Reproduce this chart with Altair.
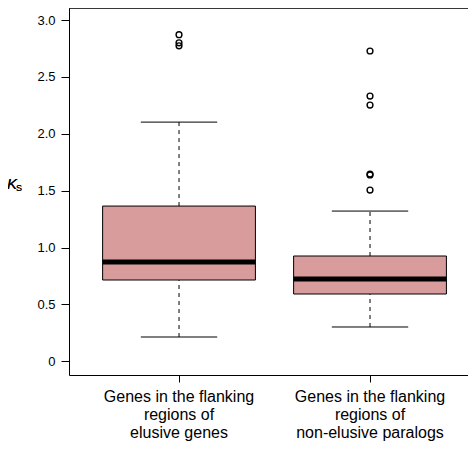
import altair as alt
import pandas as pd

categories = ["elusive", "non-elusive"]
label_lines = [
    ["Genes in the flanking", "regions of", "elusive genes"],
    ["Genes in the flanking", "regions of", "non-elusive paralogs"],
]
positions = [1, 2]
lower_whisker = [0.214, 0.302]
q1 = [0.715, 0.592]
median = [0.873, 0.724]
q3 = [1.365, 0.926]
upper_whisker = [2.103, 1.321]
outliers = [
    [2.871, 2.80, 2.774],
    [2.728, 2.332, 2.253, 1.646, 1.638, 1.506],
]
y_ticks = [0, 0.5, 1.0, 1.5, 2.0, 2.5, 3.0]

FONT = "Liberation Sans"
FILL = "#D99C9C"
W, H = 399, 367
XDOM = [0.424, 0.424 + 399 / 191]
YDOM = [-0.12, 3.106]

boxes = pd.DataFrame({
    "cat": categories,
    "pos": positions,
    "lo": lower_whisker,
    "q1": q1,
    "med": median,
    "q3": q3,
    "hi": upper_whisker,
    "label": ["\n".join(l) for l in label_lines],
})
boxes["bl"] = boxes["pos"] - 0.4
boxes["br"] = boxes["pos"] + 0.4
boxes["cl"] = boxes["pos"] - 0.2
boxes["cr"] = boxes["pos"] + 0.2

out_rows = []
for p, vals in zip(positions, outliers):
    for v in vals:
        out_rows.append({"pos": p, "v": v})
outs = pd.DataFrame(out_rows)

xs = alt.Scale(domain=XDOM, nice=False, zero=False)
ys = alt.Scale(domain=YDOM, nice=False, zero=False)

base = alt.Chart(boxes)

xaxis = alt.Axis(values=positions, labels=False, title=None, grid=False,
                 tickSize=7, tickColor="black", domainColor="black",
                 domainWidth=1, tickWidth=1)
yaxis = alt.Axis(values=y_ticks, title=None, grid=False, tickSize=8,
                 tickColor="black", domainColor="black", domainWidth=1,
                 tickWidth=1, labelFontSize=13, labelFont=FONT,
                 labelColor="black", labelPadding=6,
                 labelExpr="datum.value == 0 ? '0' : format(datum.value, '.1f')")

whisk_up = base.mark_rule(color="black", strokeWidth=1, strokeDash=[4, 4]).encode(
    x=alt.X("pos:Q", scale=xs, axis=xaxis),
    y=alt.Y("q3:Q", scale=ys, axis=yaxis),
    y2="hi:Q",
)
whisk_lo = base.mark_rule(color="black", strokeWidth=1, strokeDash=[4, 4]).encode(
    x=alt.X("pos:Q", scale=xs), y=alt.Y("lo:Q", scale=ys), y2="q1:Q"
)
cap_hi = base.mark_rule(color="black", strokeWidth=1).encode(
    x=alt.X("cl:Q", scale=xs), x2="cr:Q", y=alt.Y("hi:Q", scale=ys)
)
cap_lo = base.mark_rule(color="black", strokeWidth=1).encode(
    x=alt.X("cl:Q", scale=xs), x2="cr:Q", y=alt.Y("lo:Q", scale=ys)
)
box = base.mark_rect(fill=FILL, stroke="black", strokeWidth=1).encode(
    x=alt.X("bl:Q", scale=xs), x2="br:Q",
    y=alt.Y("q1:Q", scale=ys), y2="q3:Q",
)
med = base.mark_rule(color="black", strokeWidth=5, strokeCap="butt").encode(
    x=alt.X("bl:Q", scale=xs), x2="br:Q", y=alt.Y("med:Q", scale=ys)
)
pts = alt.Chart(outs).mark_point(shape="circle", filled=False, color="black",
                                 size=34, strokeWidth=1.4, opacity=1).encode(
    x=alt.X("pos:Q", scale=xs), y=alt.Y("v:Q", scale=ys)
)
top_line = base.mark_rule(color="black", strokeWidth=1).encode(
    x=alt.value(0), x2=alt.value(W), y=alt.value(0)
)
xlabels = base.mark_text(font=FONT, fontSize=16, lineBreak="\n", lineHeight=18,
                         baseline="alphabetic", align="center", color="black").encode(
    x=alt.X("pos:Q", scale=xs), y=alt.value(394), text="label:N"
)
k_text = base.mark_text(font=FONT, fontSize=15, fontStyle="italic", align="left",
                        baseline="alphabetic", color="black").encode(
    x=alt.value(-62), y=alt.value(181), text=alt.value("K")
)
s_text = base.mark_text(font=FONT, fontSize=9, align="left",
                        baseline="alphabetic", color="black").encode(
    x=alt.value(-53), y=alt.value(183), text=alt.value("S")
)

chart = alt.layer(
    whisk_up, whisk_lo, cap_hi, cap_lo, box, med, pts, top_line, xlabels, k_text, s_text
).properties(
    width=W, height=H,
    autosize=alt.AutoSizeParams(type="none"),
    padding={"left": 61, "top": 0, "right": 0, "bottom": 67},
).configure_view(stroke=None).configure(background="white")

chart.save("out.html", embed_options={"renderer": "svg", "actions": False})
